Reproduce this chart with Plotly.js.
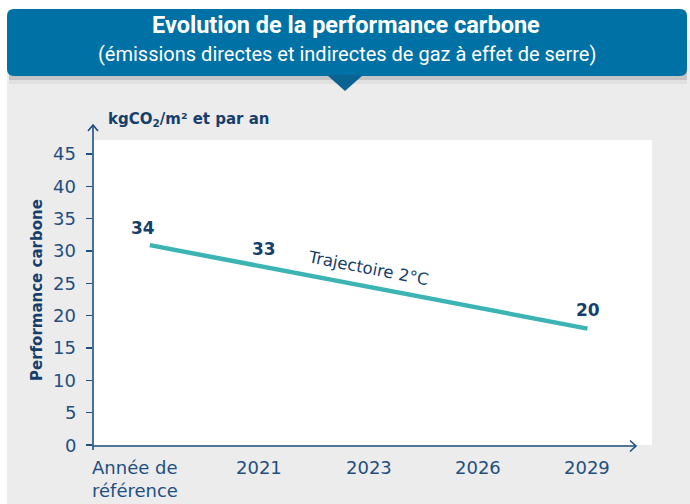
<!DOCTYPE html>
<html><head><meta charset="utf-8">
<script src="https://cdn.plot.ly/plotly-3.0.1.min.js"></script>
<style>html,body{margin:0;padding:0;background:#fff}</style>
</head><body><div id="chart" style="width:690px;height:504px"></div>
<script>
// ---- data ----
const categories = ['Année de<br>référence', '2021', '2023', '2026', '2029'];
const trajectory = [30.9, 27.7, 24.4, 21.2, 18.0];
const valueLabels = ['34', '33', '', '', '20'];
const yTicks = [0, 5, 10, 15, 20, 25, 30, 35, 40, 45];
const seriesName = 'Trajectoire 2°C';
const titleText = 'Evolution de la performance carbone';
const subtitleText = '(émissions directes et indirectes de gaz à effet de serre)';
const unitText = 'kgCO<sub>2</sub>/m² et par an';
const yTitleText = 'Performance carbone';

// ---- geometry helpers (pixel -> paper) ----
const L = 93, R = 652, T = 140, B = 445;
const px = x => (x - L) / (R - L);
const py = y => (B - y) / (B - T);

const navy = '#173f6b';
const tickCol = '#1f4f7f';
const teal = '#3cb4b4';
const blue = '#0071a5';

function roundRect(x0, y0, x1, y1, r) {
  const rx = r / (R - L), ry = r / (B - T);
  const X0 = px(x0), X1 = px(x1), Y0 = py(y0), Y1 = py(y1);
  return `M${X0 + rx},${Y0} L${X1 - rx},${Y0} Q${X1},${Y0} ${X1},${Y0 - ry} L${X1},${Y1 + ry} Q${X1},${Y1} ${X1 - rx},${Y1} L${X0 + rx},${Y1} Q${X0},${Y1} ${X0},${Y1 + ry} L${X0},${Y0 - ry} Q${X0},${Y0} ${X0 + rx},${Y0} Z`;
}
function rectShape(x0, y0, x1, y1, fill, layer) {
  return {type: 'rect', xref: 'paper', yref: 'paper', x0: px(x0), x1: px(x1), y0: py(y1), y1: py(y0),
    fillcolor: fill, line: {width: 0}, layer: layer || 'below'};
}

const shapes = [
  rectShape(7, 40, 690, 504, '#ececec'),
  rectShape(L, T, R, B, '#ffffff'),
  rectShape(9, 70, 687, 80, 'rgba(0,0,0,0.12)'),
  rectShape(9, 70, 687, 84, 'rgba(0,0,0,0.05)'),
  {type: 'path', xref: 'paper', yref: 'paper', path: roundRect(7, 9, 687, 76, 7), fillcolor: blue, line: {width: 0}, layer: 'below'},
  {type: 'path', xref: 'paper', yref: 'paper', path: `M${px(327)},${py(75)} L${px(363)},${py(75)} L${px(345)},${py(91)} Z`, fillcolor: '#0a6393', line: {width: 0}, layer: 'below'},
  {type: 'line', xref: 'paper', yref: 'paper', x0: px(93), x1: px(93), y0: py(450), y1: py(125), line: {color: tickCol, width: 1.6}, layer: 'above'},
  {type: 'line', xref: 'paper', yref: 'paper', x0: px(93), x1: px(636), y0: py(446), y1: py(446), line: {color: tickCol, width: 1.6}, layer: 'above'},
  {type: 'path', xref: 'paper', yref: 'paper', path: `M${px(88)},${py(131)} L${px(93)},${py(125)} L${px(98)},${py(131)}`, line: {color: tickCol, width: 1.6}, layer: 'above'},
  {type: 'path', xref: 'paper', yref: 'paper', path: `M${px(630)},${py(440.5)} L${px(636)},${py(446)} L${px(630)},${py(451.5)}`, line: {color: tickCol, width: 1.6}, layer: 'above'}
];

const annotations = [];
annotations.push({xref: 'paper', yref: 'paper', x: px(346), y: py(25), text: '<b>' + titleText + '</b>', showarrow: false,
  font: {family: 'Roboto, Arial', size: 23.5, color: '#ffffff'}, xanchor: 'center', yanchor: 'middle'});
annotations.push({xref: 'paper', yref: 'paper', x: px(347), y: py(54), text: subtitleText, showarrow: false,
  font: {family: 'Roboto, Arial', size: 20, color: '#ffffff'}, xanchor: 'center', yanchor: 'middle'});
annotations.push({xref: 'paper', yref: 'paper', x: px(106), y: py(120), text: '<b>' + unitText + '</b>', showarrow: false,
  font: {family: 'DejaVu Sans', size: 15, color: navy}, xanchor: 'left', yanchor: 'middle'});
annotations.push({xref: 'paper', yref: 'paper', x: px(37), y: py(290), text: '<b>' + yTitleText + '</b>', showarrow: false, textangle: -90,
  font: {family: 'DejaVu Sans', size: 15, color: navy}, xanchor: 'center', yanchor: 'middle'});
// y tick labels
yTicks.forEach(v => {
  annotations.push({xref: 'paper', yref: 'y', x: px(78), y: v, text: String(v), showarrow: false,
    font: {family: 'DejaVu Sans', size: 18, color: tickCol}, xanchor: 'right', yanchor: 'middle'});
});
// x category labels
categories.forEach((c, i) => {
  annotations.push({xref: 'x', yref: 'paper', x: i, y: py(455), text: c, showarrow: false,
    xshift: i === 0 ? -15 : 0, align: i === 0 ? 'left' : 'center',
    font: {family: 'DejaVu Sans', size: 18, color: tickCol}, xanchor: 'center', yanchor: 'top'});
});
const labelShift = [[-7, 17], [5, 17], [0, 17], [0, 17], [1, 19]];
valueLabels.forEach((t, i) => {
  if (!t) return;
  annotations.push({xref: 'x', yref: 'y', x: i, y: trajectory[i], text: '<b>' + t + '</b>', showarrow: false,
    xshift: labelShift[i][0], yshift: labelShift[i][1],
    font: {family: 'DejaVu Sans', size: 17, color: navy}, xanchor: 'center', yanchor: 'middle'});
});
annotations.push({xref: 'x', yref: 'y', x: 2, y: trajectory[2], text: seriesName, showarrow: false, textangle: 11,
  yshift: 19, font: {family: 'DejaVu Sans', size: 16.5, color: navy}, xanchor: 'center', yanchor: 'middle'});

const data = [{
  type: 'scatter', mode: 'lines', x: categories.map((_, i) => i), y: trajectory, name: seriesName,
  line: {color: teal, width: 4.5}, hoverinfo: 'skip', cliponaxis: false
}];

const layout = {
  width: 690, height: 504,
  margin: {l: L, r: 690 - R, t: T, b: 504 - B, pad: 0},
  paper_bgcolor: '#ffffff', plot_bgcolor: 'rgba(0,0,0,0)',
  showlegend: false,
  xaxis: {range: [-0.52, 4.59], showgrid: false, zeroline: false, showline: false, showticklabels: false, ticks: ''},
  yaxis: {range: [0, 47.16], tickvals: yTicks, showgrid: false, zeroline: false, showline: false, showticklabels: false,
    ticks: 'outside', ticklen: 6, tickwidth: 1.6, tickcolor: tickCol},
  shapes: shapes, annotations: annotations
};
Plotly.newPlot('chart', data, layout, {displayModeBar: false, staticPlot: true});
</script></body></html>
